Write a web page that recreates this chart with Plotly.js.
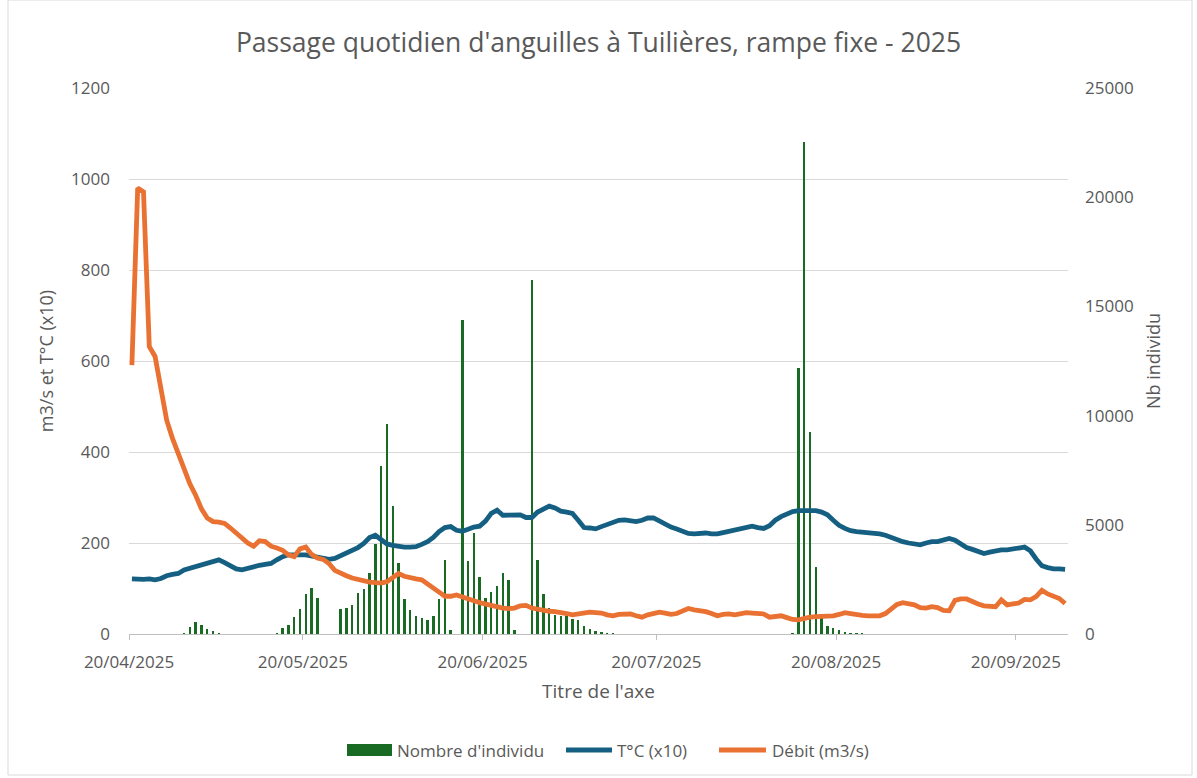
<!DOCTYPE html>
<html>
<head>
<meta charset="utf-8">
<script src="https://cdn.plot.ly/plotly-3.0.1.min.js"></script>
<style>
  html, body { margin: 0; padding: 0; background: #ffffff; }
  #chart { width: 1197px; height: 778px; }
</style>
</head>
<body>
<div id="chart"></div>
<script>
// ---- Data (daily, starting 20/04/2025) ----
const startDate = '2025-04-20';

const temperatureX10 = [
  121,120,120,121,119,122,128,131,133,141,145,148,152,155,160,163,157,150,143,141,
  145,148,151,153,155,163,170,174,175,174,174,171,169,166,164,166,172,177,182,190,
  199,212,217,207,198,195,192,191,191,192,197,203,212,225,234,236,228,226,230,235,
  237,248,265,272,261,262,263,262,256,256,268,274,281,277,270,268,265,250,234,233,
  231,236,240,244,250,251,249,247,250,255,255,248,241,235,231,226,221,220,222,222,
  220,220,223,226,229,233,236,237,234,232,238,250,258,264,269,271,271,272,271,268,
  262,250,239,232,227,225,224,223,223,220,217,212,206,203,200,197,196,200,203,203,
  206,210,206,198,190,186,181,177,180,183,185,185,186,189,191,183,165,150,146,143,
  143,142
];

const debit = [
  591,980,972,632,610,535,470,430,395,360,330,305,275,255,247,246,243,233,222,212,
  200,193,205,203,193,189,184,174,170,187,191,175,167,164,155,140,133,128,123,120,
  116,114,113,112,115,125,133,127,123,121,119,111,100,92,83,83,86,81,76,73,
  69,66,63,59,57,56,57,62,63,57,54,52,50,49,48,45,42,44,46,48,
  47,46,42,40,43,44,44,40,37,42,44,48,46,43,45,50,56,53,52,49,
  45,40,43,44,42,44,47,46,45,44,37,38,40,36,32,31,35,37,38,38,
  38,40,43,47,45,42,41,40,40,40,45,56,65,69,66,64,58,57,60,58,
  52,51,74,77,77,70,66,62,60,60,75,64,66,68,76,75,82,96,88,84,
  78,67
];

const nombreIndividus = [
  0,0,0,0,0,0,0,0,0,50,300,560,410,240,140,50,0,0,0,0,
  0,0,0,0,0,50,260,410,780,1130,1820,2090,1650,0,0,0,1150,1180,1310,1890,
  2050,2810,4110,7680,9620,5880,3270,1580,1100,830,740,640,830,1610,3400,200,0,14380,3320,4610,
  2620,1630,1910,2210,2790,2470,200,0,0,16230,3400,1830,1190,870,810,810,690,640,350,230,
  150,80,50,30,0,0,0,0,20,20,20,20,20,0,20,20,0,0,0,0,
  0,0,0,0,0,0,0,0,0,0,0,0,0,0,30,12200,22550,9230,3080,880,
  380,260,180,90,50,40,30,0,0,0,0,0,0,0,0,0,0,0,0,0,
  0,0,0,0,0,0,0,0,0,0,0,0,0,0,0,0,0,0,0,0,
  0,0
];

const seriesNames = ["Nombre d'individu", "T°C (x10)", "Débit (m3/s)"];
const seriesColors = ['#196B24', '#156082', '#E97132'];
const chartTitle = "Passage quotidien d'anguilles à Tuilières, rampe fixe - 2025";
const leftAxisTitle = "m3/s et T°C (x10)";
const rightAxisTitle = "Nb individu";
const xAxisTitle = "Titre de l'axe";

// ---- Build dates ----
function buildDates(start, n) {
  const [y, m, d] = start.split('-').map(Number);
  const out = [];
  for (let i = 0; i < n; i++) {
    out.push(new Date(Date.UTC(y, m - 1, d + i)).toISOString().slice(0, 10));
  }
  return out;
}
const dates = buildDates(startDate, temperatureX10.length);

const DAY = 86400000;
const FONT = '"Open Sans", "Noto Sans", sans-serif';
const GREY = '#595959';

// plot area in pixels
const PL = 129, PR = 1068, PT = 88, PB = 634;
const PW = PR - PL, PH = PB - PT;
const px = x => (x - PL) / PW;
const py = y => (PB - y) / PH;

const traces = [
  {
    type: 'bar',
    name: seriesNames[0],
    x: dates,
    y: nombreIndividus,
    xperiod: DAY,
    xperiodalignment: 'middle',
    width: 0.42 * DAY,
    marker: { color: seriesColors[0], line: { width: 0 } },
    yaxis: 'y'
  },
  {
    type: 'scatter',
    mode: 'lines',
    name: seriesNames[1],
    x: dates,
    y: temperatureX10,
    xperiod: DAY,
    xperiodalignment: 'middle',
    line: { color: seriesColors[1], width: 4.8 },
    yaxis: 'y2'
  },
  {
    type: 'scatter',
    mode: 'lines',
    name: seriesNames[2],
    x: dates,
    y: debit,
    xperiod: DAY,
    xperiodalignment: 'middle',
    line: { color: seriesColors[2], width: 4.8 },
    yaxis: 'y2'
  }
];

// custom legend (wide swatches like the original)
const legendY = 750;
const legendItems = [
  { kind: 'rect', x0: 347, x1: 392, tx: 395 },
  { kind: 'line', x0: 566, x1: 612, tx: 615 },
  { kind: 'line', x0: 719, x1: 766, tx: 770 }
];
const shapes = [
  {
    type: 'rect', xref: 'paper', yref: 'paper',
    x0: px(8), x1: px(1192), y0: py(775), y1: py(0),
    line: { color: '#d9d9d9', width: 1 }, fillcolor: 'rgba(0,0,0,0)', layer: 'below'
  }
];
const annotations = [];
legendItems.forEach((it, i) => {
  if (it.kind === 'rect') {
    shapes.push({ type: 'rect', xref: 'paper', yref: 'paper',
      x0: px(it.x0), x1: px(it.x1), y0: py(legendY + 6), y1: py(legendY - 6),
      fillcolor: seriesColors[i], line: { width: 0 } });
  } else {
    shapes.push({ type: 'line', xref: 'paper', yref: 'paper',
      x0: px(it.x0), x1: px(it.x1), y0: py(legendY), y1: py(legendY),
      line: { color: seriesColors[i], width: 4.8 } });
  }
  annotations.push({ xref: 'paper', yref: 'paper', x: px(it.tx), y: py(legendY),
    xanchor: 'left', yanchor: 'middle', showarrow: false, text: seriesNames[i],
    font: { family: FONT, size: 17, color: GREY } });
});

const layout = {
  width: 1197,
  height: 778,
  paper_bgcolor: '#ffffff',
  plot_bgcolor: '#ffffff',
  font: { family: FONT, color: GREY, size: 17 },
  margin: { l: PL, r: 1197 - PR, t: PT, b: 778 - PB, pad: 0 },
  title: {
    text: chartTitle,
    font: { family: FONT, size: 26.5, color: GREY },
    x: 0.5, xanchor: 'center',
    y: 1 - 43 / 778, yanchor: 'middle', yref: 'container'
  },
  showlegend: false,
  bargap: 0,
  xaxis: {
    type: 'date',
    range: ['2025-04-20', '2025-09-29'],
    tick0: '2025-04-20',
    dtick: 'M1',
    tickformat: '%d/%m/%Y',
    ticks: 'outside',
    ticklen: 5,
    tickcolor: '#bfbfbf',
    ticklabelstandoff: 8,
    showline: true,
    linecolor: '#bfbfbf',
    linewidth: 1,
    showgrid: false,
    zeroline: false,
    tickfont: { family: FONT, size: 17, color: GREY },
    title: { text: xAxisTitle, font: { family: FONT, size: 19, color: GREY }, standoff: 12 }
  },
  yaxis: {
    side: 'right',
    range: [0, 25000],
    dtick: 5000,
    tickformat: 'd',
    showgrid: false,
    zeroline: false,
    showline: false,
    ticks: '',
    ticklabelstandoff: 16,
    tickfont: { family: FONT, size: 17, color: GREY },
    title: { text: rightAxisTitle, font: { family: FONT, size: 18, color: GREY }, standoff: 14 }
  },
  yaxis2: {
    overlaying: 'y',
    side: 'left',
    range: [0, 1200],
    dtick: 200,
    showgrid: true,
    gridcolor: '#d9d9d9',
    gridwidth: 1,
    zeroline: false,
    showline: false,
    ticks: '',
    ticklabelstandoff: 18,
    tickfont: { family: FONT, size: 17, color: GREY },
    title: { text: leftAxisTitle, font: { family: FONT, size: 18, color: GREY }, standoff: 12 }
  },
  shapes: shapes,
  annotations: annotations
};

Plotly.newPlot('chart', traces, layout, { displayModeBar: false, responsive: false, staticPlot: true });
</script>
</body>
</html>
